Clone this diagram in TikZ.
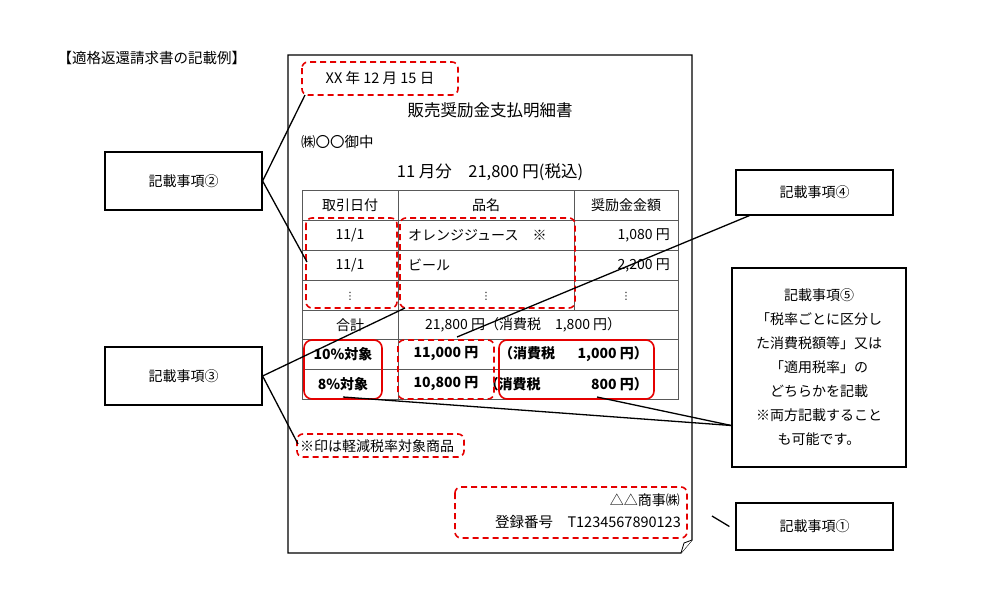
\documentclass[tikz,border=0pt]{standalone}
\usepackage{fontspec}
\setmainfont{Noto Sans CJK JP}
\newfontfamily\dejavu{DejaVu Sans}
\begin{document}
\begin{tikzpicture}[x=1pt,y=-1pt,
  rd/.style={draw=red!90!black,line width=1.6pt,dash pattern=on 6pt off 4pt,rounded corners=6pt},
  rs/.style={draw=red!90!black,line width=1.6pt,rounded corners=8pt},
  cb/.style={draw,line width=1.2pt,font=\fontsize{14}{16}\selectfont,align=center},
  ln/.style={line width=1.3pt},
  tx/.style={font=\fontsize{14}{16}\selectfont,inner sep=0pt},
  tb/.style={font=\fontsize{14}{16}\selectfont\bfseries,inner sep=0pt}]
\useasboundingbox (0,0) rectangle (1000,600);
\node[anchor=west,font=\fontsize{14.5}{16}\selectfont] (title) at (54,58) {【適格返還請求書の記載例】};
% page
\draw[line width=1.1pt] (288,55)--(692,55)--(692,540)--(681,553)--(288,553)--cycle;
\draw[line width=0.8pt,fill=white] (681,553)--(684,543)--(692,540);
% table
\draw[gray!70!black,line width=0.9pt] (302,190) rectangle (678,399);
\foreach \y in {220,250,280,310,339,369} \draw[gray!70!black,line width=0.9pt] (302,\y)--(678,\y);
\draw[gray!70!black,line width=0.9pt] (398,190)--(398,399);
\draw[gray!70!black,line width=0.9pt] (574,190)--(574,310);
% texts
\node[tx,font=\fontsize{14.5}{16}\selectfont] (date) at (380,78) {XX 年 12 月 15 日};
\node[tx,font=\fontsize{16.5}{18}\selectfont] (ttl) at (490,110) {販売奨励金支払明細書};
\node[tx,anchor=west,font=\fontsize{14.5}{16}\selectfont] (to) at (301,142) {㈱〇〇御中};
\node[tx,font=\fontsize{16.5}{18}\selectfont] (sum) at (490,172) {11 月分　21,800 円(税込)};
\node[tx] (h1) at (350,205) {取引日付};
\node[tx] (h2) at (486,205) {品名};
\node[tx] (h3) at (626,205) {奨励金金額};
\node[tx] (d1) at (350,235) {11/1};
\node[tx] (d2) at (350,265) {11/1};
\node[tx,font=\dejavu\fontsize{10}{12}\selectfont] (d3) at (350,296) {⋮};
\node[tx,anchor=west] (n1) at (408,235) {オレンジジュース　\textbf{※}};
\node[tx,anchor=west] (n2) at (408,265) {ビール};
\node[tx,font=\dejavu\fontsize{10}{12}\selectfont] (n3) at (486,296) {⋮};
\node[tx,anchor=east] (a1) at (670,235) {1,080 円};
\node[tx,anchor=east] (a2) at (670,265) {2,200 円};
\node[tx,font=\dejavu\fontsize{10}{12}\selectfont] (a3) at (626,296) {⋮};
\node[tx] (tot) at (350,325) {合計};
\node[tx,anchor=west] (totv) at (425,325) {21,800 円（消費税　1,800 円）};
\node[tb] (p10) at (343,354) {10\%対象};
\node[tb] (p8) at (343,384) {8\%対象};
\node[tb] (v10) at (446,354) {11,000 円};
\node[tb] (v8) at (446,384) {10,800 円};
\node[tb,anchor=east] (t10) at (648,354) {（消費税　\hspace{0.6em}1,000 円）};
\node[tb,anchor=east] (t8) at (648,384) {（消費税　\hspace{2.6em}800 円）};
\node[tx,anchor=west] (note) at (300,446) {※印は軽減税率対象商品};
\node[tx,anchor=east] (co) at (680,500) {△△商事㈱};
\node[tx,anchor=east,font=\fontsize{14.5}{16}\selectfont] (reg) at (681,522) {登録番号　T1234567890123};
% red boxes
\draw[rd] (302,62) rectangle (458,95);
\draw[rd] (306,218) rectangle (397,308);
\draw[rd] (400,218) rectangle (575,308);
\draw[rs] (304,340) rectangle (382,399);
\draw[rd] (398,340) rectangle (494,399);
\draw[rs] (499,340) rectangle (654,399);
\draw[rd] (297,434) rectangle (464,457);
\draw[rd] (455,487) rectangle (687,538);
\coordinate (cd) at (305,95);
\coordinate (cdate) at (307,262);
\coordinate (cname) at (405,308);
\coordinate (cnote) at (298,444);
\coordinate (ctot) at (457,337);
\coordinate (c8) at (343,397);
\coordinate (ctx) at (597,397);
\coordinate (creg) at (712,516);
% callouts
\node[cb,minimum width=157pt,minimum height=58pt] (k2) at (183.5,181) {記載事項②};
\node[cb,minimum width=157pt,minimum height=58pt] (k3) at (183.5,376) {記載事項③};
\node[cb,minimum width=157pt,minimum height=45pt] (k4) at (814.5,192.5) {記載事項④};
\node[cb,minimum width=174pt,minimum height=199pt,font=\fontsize{14}{24}\selectfont] (k5) at (819,367.5) {記載事項⑤\\「税率ごとに区分し\\た消費税額等」又は\\「適用税率」の\\どちらかを記載\\※両方記載すること\\も可能です。};
\node[cb,minimum width=157pt,minimum height=47pt] (k1) at (814.5,526.5) {記載事項①};
\draw[ln] (k2.east)--(cd);
\draw[ln] (k2.east)--(cdate);
\draw[ln] (k3.east)--(cname);
\draw[ln] (k3.east)--(cnote);
\draw[ln] (k4.south west)++(14,0) coordinate (k4a) -- (ctot);
\draw[ln] (k5.west)++(0,58) coordinate (k5a) -- (c8);
\draw[ln] (k5a)--(ctx);
\draw[ln] (creg)--([xshift=-6pt]k1.west);
\end{tikzpicture}
\end{document}
